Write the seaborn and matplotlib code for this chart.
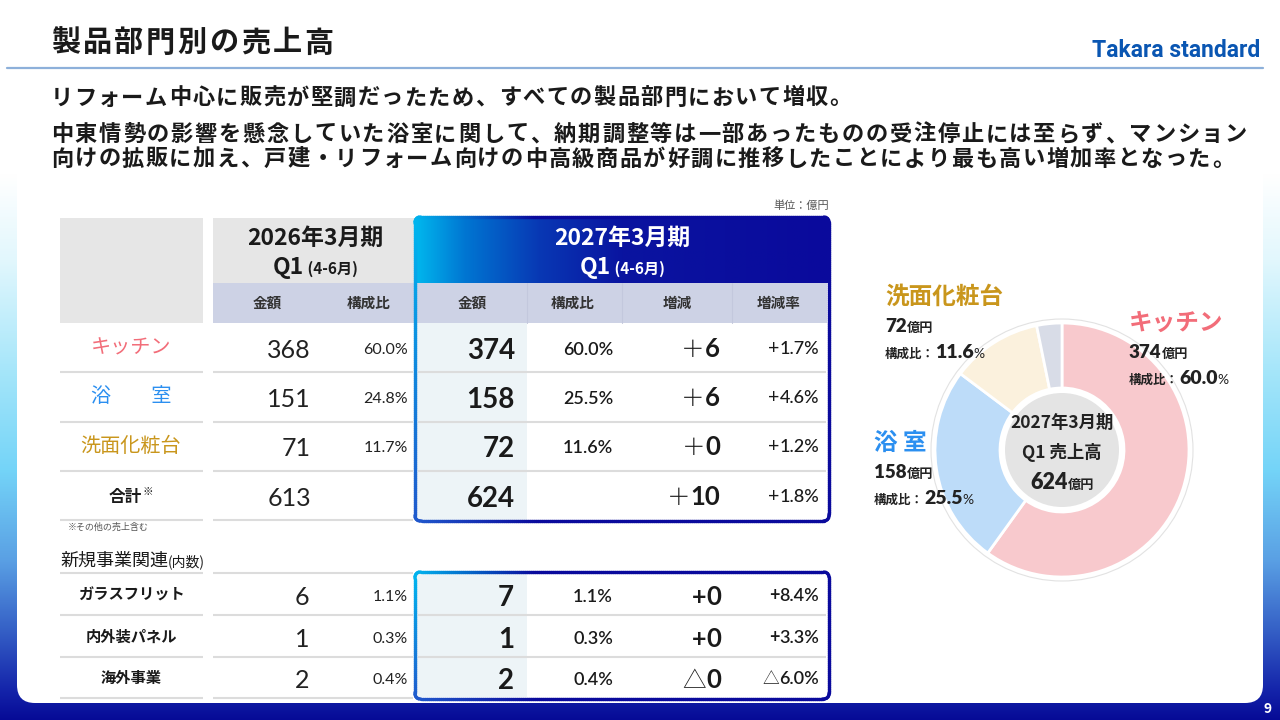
import numpy as np
import matplotlib
matplotlib.use("Agg")
import matplotlib.pyplot as plt
import seaborn as sns
from matplotlib.patches import FancyBboxPatch, Rectangle, Circle
from matplotlib.collections import LineCollection
from matplotlib.colors import to_rgb

sns.set_theme(style="white")
JP = ["Noto Sans CJK JP", "DejaVu Sans"]
NUM = ["Lato", "Noto Sans CJK JP", "DejaVu Sans"]
plt.rcParams["font.family"] = JP

# ---- データ ----
title = "製品部門別の売上高"
lead = "リフォーム中心に販売が堅調だったため、すべての製品部門において増収。"
body1 = "中東情勢の影響を懸念していた浴室に関して、納期調整等は一部あったものの受注停止には至らず、マンション"
body2 = "向けの拡販に加え、戸建・リフォーム向けの中高級商品が好調に推移したことにより最も高い増加率となった。"

prev_period = "2026年3月期"
cur_period = "2027年3月期"
quarter = "Q1"
months = " (4-6月)"
col_prev = ["金額", "構成比"]
col_cur = ["金額", "構成比", "増減", "増減率"]

categories = ["キッチン", "浴　　室", "洗面化粧台", "合計"]
cat_colors = ["#f26d79", "#2b8ff0", "#c9961c", "#1a1a1a"]
sales_prev = [368, 151, 71, 613]
share_prev = [60.0, 24.8, 11.7, None]
sales_cur = [374, 158, 72, 624]
share_cur = [60.0, 25.5, 11.6, None]
diff_cur = [6, 6, 0, 10]
rate_cur = [1.7, 4.6, 1.2, 1.8]

new_items = ["ガラスフリット", "内外装パネル", "海外事業"]
new_prev = [6, 1, 2]
new_share_prev = [1.1, 0.3, 0.4]
new_cur = [7, 1, 2]
new_share_cur = [1.1, 0.3, 0.4]
new_diff = ["+0", "+0", "△0"]
new_rate = [8.4, 3.3, -6.0]

pie_labels = ["キッチン", "浴 室", "洗面化粧台", "その他"]
pie_values = [374, 158, 72, 20]
pie_share = [60.0, 25.5, 11.6, None]
pie_colors = sns.color_palette(["#f8c9cd", "#bddcf9", "#fbf1dd", "#d8dce7"])
label_colors = ["#f26d79", "#2b8ff0", "#c9961c", "#1a1a1a"]

TXT = "#1a1a1a"
GRAY_HDR = "#e6e6e6"
LAV = "#cdd2e5"
AMT_BG = "#edf4f7"
SEP = "#dcdcdc"
NAVY = "#0a0a9c"

fig = plt.figure(figsize=(12.8, 7.2), dpi=100)

# 背景グラデーションと白いカード
bg = fig.add_axes([0, 0, 1, 1], zorder=0)
stops_y = [0, 175, 260, 370, 470, 560, 630, 690, 720]
stops_c = ["#ffffff", "#ffffff", "#e2f7fd", "#a6e6fa", "#74d4f8", "#5aa0e4", "#3560c6", "#1424aa", "#060a96"]
yy = np.arange(720) + 0.5
rgb = np.array([to_rgb(c) for c in stops_c])
grad = np.stack([np.interp(yy, stops_y, rgb[:, k]) for k in range(3)], axis=1)
bg.imshow(grad[:, None, :], extent=(0, 1280, 720, 0), aspect="auto", interpolation="bilinear")
bg.add_patch(FancyBboxPatch((17, 120), 1246, 583, boxstyle="round,pad=0,rounding_size=18",
                            fc="white", ec="none"))
bg.set_xlim(0, 1280)
bg.set_ylim(720, 0)
bg.axis("off")

# ドーナツ
cx, cy, rad, half = 1062, 450, 127, 140
pax = fig.add_axes([(cx - half) / 1280, (720 - cy - half) / 720, 2 * half / 1280, 2 * half / 720], zorder=1)
pax.pie(pie_values, colors=pie_colors, startangle=90, counterclock=False, radius=rad,
        wedgeprops=dict(width=65, edgecolor="white", linewidth=2))
pax.add_patch(Circle((0, 0), 131, fc="white", ec="#e2e2e2", lw=0.8, zorder=0))
pax.add_patch(Circle((0, 0), 62, fc="white", ec="none", zorder=3))
pax.add_patch(Circle((0, 0), 57, fc="#e4e4e4", ec="none", zorder=4))
pax.set_xlim(-half, half)
pax.set_ylim(-half, half)
pax.set_aspect("equal")
pax.axis("off")

# 前面レイヤー (ピクセル座標)
ax = fig.add_axes([0, 0, 1, 1], zorder=2)
ax.axis("off")
R = fig.canvas.get_renderer()


def run(x, y, parts, ha="left", z=6):
    ts = [ax.text(0, y, s, ha="left", va="baseline", zorder=z, **kw) for s, kw in parts]
    ws = [t.get_window_extent(renderer=R).width for t in ts]
    x0 = x - {"left": 0, "center": 0.5, "right": 1}[ha] * sum(ws)
    for t, w in zip(ts, ws):
        t.set_x(x0)
        x0 += w
    return ts


def spaced(x, y, s, step, **kw):
    for i, ch in enumerate(s):
        ax.text(x + (i + 0.5) * step, y, ch, ha="center", va="baseline", zorder=6, **kw)


def rect(x0, y0, x1, y1, fc, z=1):
    ax.add_patch(Rectangle((x0, y0), x1 - x0, y1 - y0, fc=fc, ec="none", zorder=z))


def rrect_points(x0, y0, x1, y1, r):
    arcs = [(x1 - r, y0 + r, -90), (x1 - r, y1 - r, 0), (x0 + r, y1 - r, 90), (x0 + r, y0 + r, 180)]
    pts = []
    for ccx, ccy, a in arcs:
        t = np.radians(np.linspace(a, a + 90, 8))
        pts += list(zip(ccx + r * np.cos(t), ccy + r * np.sin(t)))
    pts.append(pts[0])
    pts = np.array(pts)
    seg = np.hypot(*np.diff(pts, axis=0).T)
    s = np.concatenate([[0], np.cumsum(seg)])
    si = np.arange(0, s[-1], 2.0)
    return np.column_stack([np.interp(si, s, pts[:, 0]), np.interp(si, s, pts[:, 1])])


def grad_border(x0, y0, x1, y1, lw=2.4):
    p = rrect_points(x0, y0, x1, y1, 5)
    segs = np.stack([p[:-1], p[1:]], axis=1)
    mid = segs.mean(axis=1)
    f = np.clip(1 - (mid[:, 0] - x0) / 120, 0, 1)[:, None]
    v = ((mid[:, 1] - y0) / (y1 - y0))[:, None]
    left = np.array(to_rgb("#00b6ef")) * (1 - v) + np.array(to_rgb("#2058cc")) * v
    cols = np.array(to_rgb(NAVY)) * (1 - f) + left * f
    ax.add_collection(LineCollection(segs, colors=cols, linewidths=lw, zorder=5, capstyle="round"))


# タイトル・ロゴ・本文
spaced(50, 51.5, title, 31.6, fontsize=21, weight="bold", color=TXT)
ax.text(1260, 57, "Takara standard", ha="right", va="baseline", fontsize=16.5, weight="bold",
        color="#0a56b2", family=["Roboto", "DejaVu Sans"], zorder=6)
ax.plot([7, 1263], [68, 68], color="#8db0da", lw=1.6, zorder=3)
spaced(50, 104.5, lead, 23.6, fontsize=16, weight="bold", color=TXT)
spaced(50, 141, body1, 23.96, fontsize=16, weight="bold", color=TXT)
spaced(50, 165.5, body2, 23.7, fontsize=16, weight="bold", color=TXT)
ax.text(829, 209, "単位：億円", ha="right", va="baseline", fontsize=8, color="#555555", zorder=6)

# 表ヘッダー
rect(60, 218, 203, 323, GRAY_HDR)
rect(213, 218, 415, 283, GRAY_HDR)
rect(213, 283, 415, 323, LAV)
rect(417, 283, 827, 323, LAV)
for x in [527, 622, 732]:
    ax.plot([x, x], [283, 323], color="#c3c8dd", lw=0.8, zorder=2)

hx = np.linspace(0, 1, 400)
hstops = [0, 0.12, 0.3, 0.5, 1]
hcols = np.array([to_rgb(c) for c in ["#00b8ee", "#0076d2", "#0838b4", "#0a14a0", NAVY]])
hg = np.stack([np.interp(hx, hstops, hcols[:, k]) for k in range(3)], axis=1)[None]
im = ax.imshow(hg, extent=(415, 829, 283, 217), aspect="auto", zorder=1)
clip = FancyBboxPatch((415, 217), 414, 304, boxstyle="round,pad=0,rounding_size=5",
                      transform=ax.transData, fc="none", ec="none")
im.set_clip_path(clip)

for xc, col, period in [(315, TXT, prev_period), (622, "white", cur_period)]:
    ax.text(xc, 245, period, ha="center", va="baseline", fontsize=16.5, weight="bold", color=col, zorder=6)
    run(xc, 274, [(quarter, dict(fontsize=16.5, weight="bold", color=col)),
                  (months, dict(fontsize=11, weight="bold", color=col))], ha="center")

for xc, name in zip([267, 369], col_prev):
    ax.text(xc, 303, name, ha="center", va="center", fontsize=10.5, weight="bold", color="#333333", zorder=6)
for xc, name in zip([472, 573, 677, 779], col_cur):
    ax.text(xc, 303, name, ha="center", va="center", fontsize=10.5, weight="bold", color="#333333", zorder=6)

# 本表
row_y = [348, 397, 446, 496]
seps = [372, 422, 471, 520]
rect(417, 323, 527, 520, AMT_BG)
for k, y in enumerate(seps):
    segs = [(60, 203), (213, 413)] + ([(418, 826)] if k < len(seps) - 1 else [])
    for a, b in segs:
        ax.plot([a, b], [y, y], color=SEP, lw=1.5, solid_capstyle="butt", zorder=2)


def sign_of(v):
    return "+" if v >= 0 else "△"


for i, y in enumerate(row_y):
    name = categories[i]
    if name == "合計":
        t = run(131, y + 6, [(name, dict(fontsize=12, weight="bold", color=TXT)),
                             ("※", dict(fontsize=7.5, color=TXT))], ha="center")
        t[1].set_y(y - 1)
    else:
        ax.text(131, y, name, ha="center", va="center", fontsize=14.5, color=cat_colors[i], zorder=6)
    ax.text(311, y + 10, f"{sales_prev[i]}", ha="right", va="baseline", fontsize=18,
            family=NUM, weight="normal", color="#222222", zorder=6)
    if share_prev[i] is not None:
        ax.text(408, y + 6, f"{share_prev[i]:.1f}%", ha="right", va="baseline", fontsize=11.5,
                family=NUM, weight="normal", color="#222222", zorder=6)
    ax.text(515, y + 11, f"{sales_cur[i]}", ha="right", va="baseline", fontsize=20,
            family=NUM, weight="bold", color=TXT, zorder=6)
    if share_cur[i] is not None:
        ax.text(613, y + 7, f"{share_cur[i]:.1f}%", ha="right", va="baseline", fontsize=13,
                family=NUM, weight="semibold", color=TXT, zorder=6)
    run(720, y + 9, [("＋", dict(family=JP, fontsize=17, weight="light", color=TXT)),
                     (f"{diff_cur[i]}", dict(family=NUM, fontsize=18.5, weight="bold", color=TXT))], ha="right")
    run(819, y + 6, [(sign_of(rate_cur[i]), dict(family=NUM, fontsize=14, weight="normal", color=TXT)),
                     (f"{abs(rate_cur[i]):.1f}%", dict(family=NUM, fontsize=13, weight="medium", color=TXT))],
        ha="right")

grad_border(415, 217, 829, 521)

ax.text(68, 527, "※その他の売上含む", ha="left", va="center", fontsize=6.5, color="#555555", zorder=6)
run(60, 566, [("新規事業関連", dict(fontsize=13, color=TXT)), ("(内数)", dict(fontsize=10, color=TXT))])

# 新規事業関連
new_y = [595, 637, 678]
new_seps = [573, 615, 657, 698]
rect(417, 573, 527, 697, AMT_BG)
for k, y in enumerate(new_seps):
    segs = [(60, 203), (213, 413)] + ([(418, 826)] if 0 < k < len(new_seps) - 1 else [])
    for a, b in segs:
        ax.plot([a, b], [y, y], color=SEP, lw=1.5, solid_capstyle="butt", zorder=2)

for i, y in enumerate(new_y):
    ax.text(131, y, new_items[i], ha="center", va="center", fontsize=11, weight="bold", color=TXT, zorder=6)
    ax.text(309, y + 10, f"{new_prev[i]}", ha="right", va="baseline", fontsize=18,
            family=NUM, weight="normal", color="#222222", zorder=6)
    ax.text(408, y + 6, f"{new_share_prev[i]:.1f}%", ha="right", va="baseline", fontsize=11.5,
            family=NUM, weight="normal", color="#222222", zorder=6)
    ax.text(514, y + 11, f"{new_cur[i]}", ha="right", va="baseline", fontsize=20,
            family=NUM, weight="bold", color=TXT, zorder=6)
    ax.text(613, y + 7, f"{new_share_cur[i]:.1f}%", ha="right", va="baseline", fontsize=13,
            family=NUM, weight="semibold", color=TXT, zorder=6)
    sgn, num = new_diff[i][0], new_diff[i][1:]
    if sgn == "+":
        sp = (sgn, dict(family=NUM, fontsize=18, weight="bold", color=TXT))
    else:
        sp = (sgn, dict(family=JP, fontsize=17, weight="light", color=TXT))
    run(721, y + 10, [sp, (num, dict(family=NUM, fontsize=18.5, weight="bold", color=TXT))], ha="right")
    r = new_rate[i]
    if r >= 0:
        rp = ("+", dict(family=NUM, fontsize=13, weight="bold", color=TXT))
    else:
        rp = ("△", dict(family=JP, fontsize=12, weight="light", color=TXT))
    run(819, y + 6, [rp, (f"{abs(r):.1f}%", dict(family=NUM, fontsize=13, weight="semibold", color=TXT))],
        ha="right")

grad_border(415, 572, 829, 699)

# ドーナツ中央とラベル
ax.text(cx, 423, cur_period, ha="center", va="center", fontsize=12.5, weight="bold", color="#222222", zorder=6)
ax.text(cx, 452, quarter + " 売上高", ha="center", va="center", fontsize=12.5, weight="bold", color="#222222", zorder=6)
run(cx, 489, [(f"{sum(pie_values)}", dict(family=NUM, fontsize=15.5, weight="heavy", color="#222222")),
              ("億円", dict(fontsize=9.5, weight="bold", color="#222222"))], ha="center")

label_pos = {0: (1129, 323), 1: (874, 443), 2: (885, 297)}
for i, (lx, ly) in label_pos.items():
    ax.text(lx, ly, pie_labels[i], ha="left", va="center", fontsize=17, weight="bold",
            color=label_colors[i], zorder=6)
    run(lx, ly + 35, [(f"{pie_values[i]}", dict(family=NUM, fontsize=13.5, weight="heavy", color="#222222")),
                      ("億円", dict(fontsize=9.5, weight="bold", color="#222222"))])
    run(lx, ly + 61, [("構成比：", dict(fontsize=9, weight="bold", color="#222222")),
                      (f"{pie_share[i]:.1f}", dict(family=NUM, fontsize=14, weight="heavy", color="#222222")),
                      ("%", dict(family=NUM, fontsize=10, color="#222222"))])

ax.text(1268, 709, "9", ha="center", va="center", fontsize=10, weight="bold", color="white", zorder=6)

ax.set_xlim(0, 1280)
ax.set_ylim(720, 0)
fig.savefig("out.png", dpi=100)
